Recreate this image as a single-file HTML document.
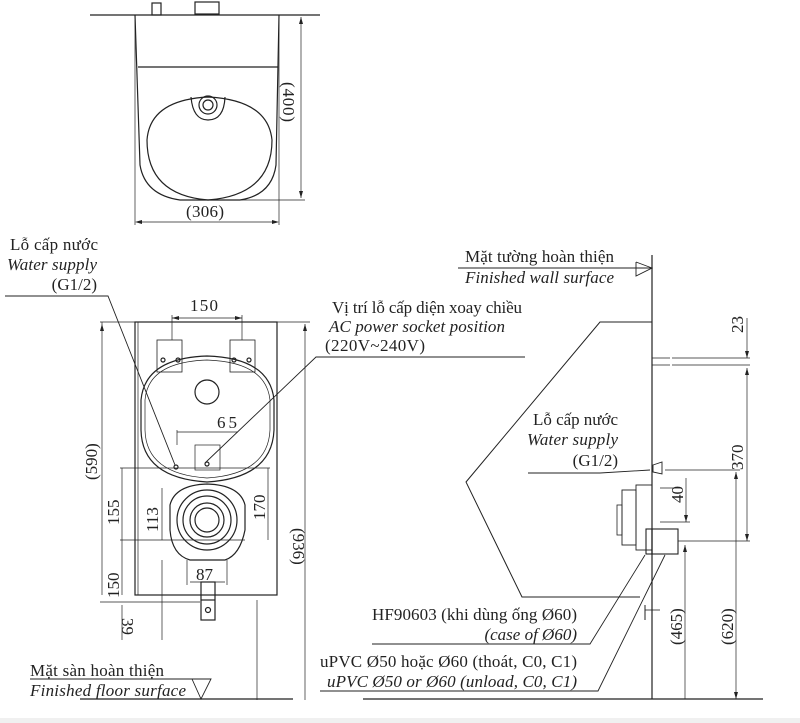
<!DOCTYPE html>
<html><head><meta charset="utf-8"><style>
html,body{margin:0;padding:0;background:#fff;}
svg{display:block;}
text{font-family:"Liberation Serif",serif;fill:#222;}
.i{font-style:italic;}
</style></head><body>
<svg width="800" height="723" viewBox="0 0 800 723" xmlns="http://www.w3.org/2000/svg">
<rect x="0" y="718" width="800" height="5" fill="#f0f0f0"/>
<g stroke="#222" fill="none" stroke-width="1.2">
<!-- TOP VIEW -->
<line x1="90" y1="15" x2="320" y2="15"/>
<rect x="152" y="3" width="9" height="12"/><rect x="195" y="2" width="24" height="12"/>
<path d="M135 15 L140 165 Q145 195 180 200 L240 200 Q272 195 276 165 L279 15"/>
<line x1="138" y1="67" x2="278" y2="67"/>
<path d="M147 140 Q150 100 208 97 Q268 100 272 140 Q272 195 208 200 Q147 195 147 140Z"/>
<circle cx="208" cy="105" r="5"/><circle cx="208" cy="105" r="9"/>
<path d="M191 97 Q193 120 208 120 Q224 120 225 97"/>
<line x1="135" y1="20" x2="135" y2="225" stroke-width="0.7"/><line x1="279" y1="20" x2="279" y2="225" stroke-width="0.7"/>
<line x1="140" y1="222" x2="275" y2="222" stroke-width="0.7"/>
<line x1="240" y1="200" x2="305" y2="200" stroke-width="0.7"/>
<line x1="301" y1="17" x2="301" y2="198" stroke-width="0.7"/>
<!-- FRONT VIEW -->
<rect x="135" y="322" width="142" height="273"/>
<line x1="138" y1="322" x2="138" y2="595" stroke-width="0.7"/>
<rect x="157" y="340" width="25" height="32" stroke-width="0.8"/><rect x="230" y="340" width="25" height="32" stroke-width="0.8"/>
<circle cx="163" cy="360" r="2"/><circle cx="178" cy="360" r="2"/><circle cx="234" cy="360" r="2"/><circle cx="249" cy="360" r="2"/>
<path d="M141 400 Q145 358 207 356 Q270 358 274 400 L274 430 Q272 478 207 482 Q142 478 141 430Z"/>
<path d="M145 400 Q148 362 207 360 Q266 362 270 400 L270 430 Q268 474 207 478 Q146 474 145 430Z" stroke-width="0.7"/>
<circle cx="207" cy="392" r="12"/>
<rect x="195" y="445" width="25" height="25" stroke-width="0.7"/>
<circle cx="207" cy="464" r="2"/><circle cx="176" cy="467" r="2"/>
<path d="M170 505 Q175 485 207 484 Q240 485 245 505 L245 530 Q240 555 225 560 L190 560 Q172 555 170 530Z"/>
<circle cx="207" cy="520" r="30"/><circle cx="207" cy="520" r="24"/><circle cx="207" cy="520" r="17"/><circle cx="207" cy="520" r="12"/>
<rect x="201" y="582" width="14" height="38"/><line x1="201" y1="600" x2="215" y2="600"/><circle cx="208" cy="610" r="2.5"/>
<g stroke-width="0.7">
<line x1="172" y1="340" x2="172" y2="315"/><line x1="242" y1="340" x2="242" y2="315"/><line x1="172" y1="318" x2="242" y2="318"/>
<line x1="177" y1="445" x2="177" y2="430"/><line x1="177" y1="432" x2="238" y2="432"/>
<line x1="100" y1="322" x2="135" y2="322"/><line x1="102" y1="322" x2="102" y2="595"/>
<line x1="120" y1="468" x2="270" y2="468"/><line x1="120" y1="540" x2="245" y2="540"/><line x1="100" y1="602" x2="200" y2="602"/>
<line x1="122" y1="468" x2="122" y2="595"/><line x1="122" y1="605" x2="122" y2="640"/>
<line x1="162" y1="488" x2="162" y2="540"/><line x1="268" y1="468" x2="268" y2="540"/>
<line x1="162" y1="560" x2="162" y2="640"/>
<line x1="187" y1="560" x2="187" y2="585"/><line x1="227" y1="560" x2="227" y2="585"/><line x1="190" y1="582" x2="225" y2="582"/>
<line x1="277" y1="322" x2="310" y2="322"/><line x1="305" y1="324" x2="305" y2="700"/>
<line x1="257" y1="600" x2="257" y2="700"/>
</g>
<!-- leaders left -->
<polyline points="5,296 108,296 175,465" stroke-width="0.9"/>
<polyline points="525,357 316,357 205,463" stroke-width="0.9"/>
<!-- floor -->
<line x1="30" y1="679" x2="192" y2="679" stroke-width="0.9"/>
<polyline points="192,679 211,679 201,699 192,679" stroke-width="0.9"/>
<line x1="80" y1="699" x2="293" y2="699"/>
<line x1="363" y1="699" x2="763" y2="699"/>
<!-- SIDE VIEW -->
<line x1="652" y1="255" x2="652" y2="699"/>
<line x1="458" y1="268" x2="652" y2="268" stroke-width="0.9"/>
<polyline points="636,262 652,268 636,276 636,262" stroke-width="0.9"/>
<polyline points="652,322 600,322 466,482 522,597 640,597" stroke-width="1"/>
<g stroke-width="0.7">
<line x1="652" y1="358" x2="670" y2="358"/><line x1="672" y1="358" x2="750" y2="358"/>
<line x1="652" y1="365" x2="670" y2="365"/><line x1="672" y1="365" x2="750" y2="365"/>
<line x1="747" y1="318" x2="747" y2="358"/><line x1="747" y1="368" x2="747" y2="541"/>
<line x1="665" y1="470" x2="740" y2="470"/><line x1="736" y1="472" x2="736" y2="699"/>
<line x1="686" y1="478" x2="686" y2="522"/><line x1="660" y1="522" x2="690" y2="522"/>
<line x1="678" y1="541" x2="750" y2="541"/><line x1="685" y1="545" x2="685" y2="699"/>
<line x1="660" y1="488" x2="680" y2="488"/>
</g>
<path d="M653 465 L662 462 L662 474 L653 472Z" stroke-width="0.9"/>
<rect x="636" y="485" width="16" height="65" stroke-width="0.9"/>
<rect x="622" y="490" width="14" height="55" stroke-width="0.9"/>
<rect x="617" y="505" width="5" height="30" stroke-width="0.8"/>
<rect x="646" y="529" width="32" height="25" stroke-width="1.1"/>
<line x1="652" y1="529" x2="652" y2="554"/>
<polyline points="528,473 600,473 650,470" stroke-width="0.9"/>
<polyline points="372,644 590,644 645,555" stroke-width="0.9"/>
<polyline points="320,691 598,691 665,555" stroke-width="0.9"/>
<line x1="645" y1="605" x2="645" y2="620" stroke-width="1"/>
<line x1="645" y1="610" x2="660" y2="610" stroke-width="0.8"/>
</g>
<g fill="#222">
<polygon points="135,222 142,220 142,224"/><polygon points="279,222 272,220 272,224"/>
<polygon points="301,17 299,24 303,24"/><polygon points="301,198 299,191 303,191"/>
<polygon points="172,318 179,316 179,320"/><polygon points="242,318 235,316 235,320"/>
<polygon points="102,324 100,331 104,331"/><polygon points="305,324 303,331 307,331"/>
<polygon points="747,358 745,351 749,351"/><polygon points="747,368 745,375 749,375"/><polygon points="747,541 745,534 749,534"/>
<polygon points="736,472 734,479 738,479"/><polygon points="736,699 734,692 738,692"/>
<polygon points="685,545 683,552 687,552"/><polygon points="686,522 684,515 688,515"/>
</g>
<g font-size="17">
<text x="186" y="217" textLength="38">(306)</text>
<text transform="translate(283,82) rotate(90)" textLength="40">(400)</text>
<text x="190" y="311" textLength="28">150</text>
<text x="217" y="428" textLength="20">65</text>
<text transform="translate(97,480) rotate(-90)">(590)</text>
<text transform="translate(119,525) rotate(-90)">155</text>
<text transform="translate(158,532) rotate(-90)">113</text>
<text transform="translate(265,520) rotate(-90)">170</text>
<text transform="translate(119,598) rotate(-90)">150</text>
<text transform="translate(122,618) rotate(90)">39</text>
<text x="196" y="580">87</text>
<text transform="translate(293,528) rotate(90)">(936)</text>
<text x="10" y="250" textLength="88">Lỗ cấp nước</text>
<text x="7" y="270" class="i" textLength="90">Water supply</text>
<text x="97" y="290" text-anchor="end">(G1/2)</text>
<text x="332" y="313" textLength="190">Vị trí lỗ cấp diện xoay chiều</text>
<text x="329" y="332" class="i" textLength="176">AC power socket position</text>
<text x="325" y="351" textLength="100">(220V~240V)</text>
<text x="465" y="262" textLength="149">Mặt tường hoàn thiện</text>
<text x="465" y="283" class="i" textLength="149">Finished wall surface</text>
<text x="533" y="425" textLength="85">Lỗ cấp nước</text>
<text x="527" y="445" class="i" textLength="91">Water supply</text>
<text x="618" y="466" text-anchor="end">(G1/2)</text>
<text transform="translate(743,333) rotate(-90)">23</text>
<text transform="translate(743,470) rotate(-90)">370</text>
<text transform="translate(683,503) rotate(-90)">40</text>
<text transform="translate(733,645) rotate(-90)">(620)</text>
<text transform="translate(682,645) rotate(-90)">(465)</text>
<text x="372" y="620" textLength="205">HF90603 (khi dùng ống Ø60)</text>
<text x="577" y="640" text-anchor="end" class="i">(case of Ø60)</text>
<text x="320" y="667" textLength="257">uPVC Ø50 hoặc Ø60 (thoát, C0, C1)</text>
<text x="327" y="687" class="i" textLength="250">uPVC Ø50 or Ø60 (unload, C0, C1)</text>
<text x="30" y="676" textLength="134">Mặt sàn hoàn thiện</text>
<text x="30" y="696" class="i" textLength="156">Finished floor surface</text>
</g>
</svg>
</body></html>
